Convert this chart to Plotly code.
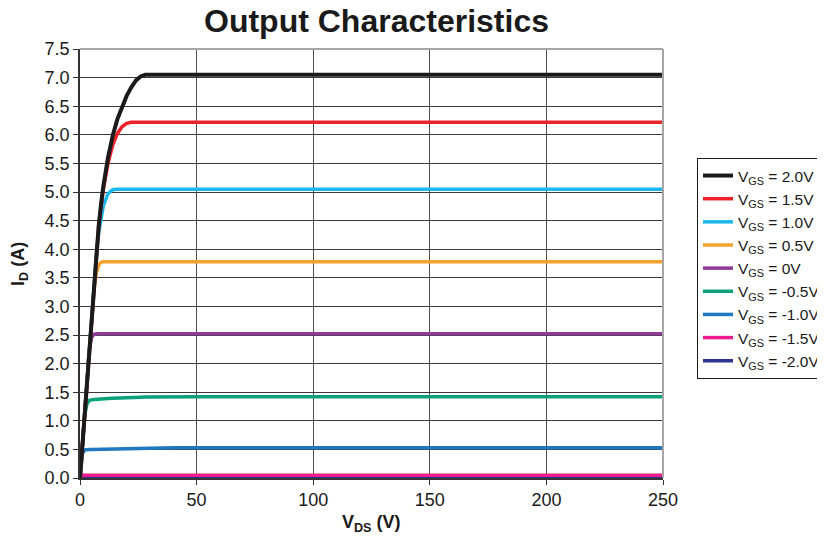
import plotly.graph_objects as go

VDS = [0, 1, 2, 3, 4, 5, 6, 7, 8, 9, 10, 12, 14, 16, 18, 20, 22, 24, 26, 28, 30, 40, 50, 100, 150, 200, 250]

ID_P2_0 = [0, 0.57, 1.14, 1.71, 2.28, 2.85, 3.42, 3.95, 4.40, 4.78, 5.10, 5.60, 5.98, 6.27, 6.50, 6.68, 6.83, 6.95, 7.02, 7.05, 7.05, 7.05, 7.05, 7.05, 7.05, 7.05, 7.05]
ID_P1_5 = [0, 0.57, 1.14, 1.71, 2.28, 2.85, 3.42, 3.95, 4.38, 4.74, 5.04, 5.50, 5.82, 6.02, 6.14, 6.20, 6.22, 6.22, 6.22, 6.22, 6.22, 6.22, 6.22, 6.22, 6.22, 6.22, 6.22]
ID_P1_0 = [0, 0.57, 1.14, 1.71, 2.28, 2.85, 3.42, 3.90, 4.28, 4.56, 4.76, 4.97, 5.04, 5.05, 5.05, 5.05, 5.05, 5.05, 5.05, 5.05, 5.05, 5.05, 5.05, 5.05, 5.05, 5.05, 5.05]
ID_P0_5 = [0, 0.57, 1.14, 1.71, 2.28, 2.85, 3.30, 3.58, 3.72, 3.77, 3.78, 3.78, 3.78, 3.78, 3.78, 3.78, 3.78, 3.78, 3.78, 3.78, 3.78, 3.78, 3.78, 3.78, 3.78, 3.78, 3.78]
ID_0_0 = [0, 0.57, 1.14, 1.71, 2.25, 2.46, 2.51, 2.52, 2.52, 2.52, 2.52, 2.52, 2.52, 2.52, 2.52, 2.52, 2.52, 2.52, 2.52, 2.52, 2.52, 2.52, 2.52, 2.52, 2.52, 2.52, 2.52]
ID_N0_5 = [0, 0.57, 1.10, 1.30, 1.355, 1.37, 1.375, 1.378, 1.38, 1.383, 1.385, 1.39, 1.395, 1.40, 1.403, 1.406, 1.409, 1.411, 1.413, 1.415, 1.416, 1.42, 1.422, 1.422, 1.422, 1.422, 1.422]
ID_N1_0 = [0, 0.42, 0.49, 0.50, 0.50, 0.50, 0.501, 0.502, 0.503, 0.504, 0.505, 0.507, 0.509, 0.511, 0.513, 0.515, 0.517, 0.519, 0.521, 0.523, 0.524, 0.528, 0.53, 0.53, 0.53, 0.53, 0.53]
ID_N1_5 = [0, 0.05, 0.05, 0.05, 0.05, 0.05, 0.05, 0.05, 0.05, 0.05, 0.05, 0.05, 0.05, 0.05, 0.05, 0.05, 0.05, 0.05, 0.05, 0.05, 0.05, 0.05, 0.05, 0.05, 0.05, 0.05, 0.05]
ID_N2_0 = [0] * len(VDS)

SERIES_NAMES = ["V<sub>GS</sub> = -2.0V", "V<sub>GS</sub> = -1.5V", "V<sub>GS</sub> = -1.0V",
                "V<sub>GS</sub> = -0.5V", "V<sub>GS</sub> = 0V", "V<sub>GS</sub> = 0.5V",
                "V<sub>GS</sub> = 1.0V", "V<sub>GS</sub> = 1.5V", "V<sub>GS</sub> = 2.0V"]
SERIES_VALUES = [ID_N2_0, ID_N1_5, ID_N1_0, ID_N0_5, ID_0_0, ID_P0_5, ID_P1_0, ID_P1_5, ID_P2_0]
COLORS = ["#2e3192", "#ec1c8c", "#1f78c1", "#0aa07a", "#8e3a96", "#f2a22e", "#1ab8ec", "#ec2228", "#1a1a1a"]
WIDTHS = [3.5, 3.5, 3.5, 3.5, 3.5, 3.5, 3.5, 3.5, 4]

TITLE = "Output Characteristics"
X_TITLE = "V<sub>DS</sub> (V)"
Y_TITLE = "I<sub>D</sub> (A)"

FONT = "Liberation Sans, Arial, sans-serif"

fig = go.Figure()
for name, vals, col, w in zip(SERIES_NAMES, SERIES_VALUES, COLORS, WIDTHS):
    fig.add_trace(go.Scatter(x=VDS, y=vals, mode="lines", name=name,
                             line=dict(color=col, width=w), cliponaxis=False))

# the page body has an 8px margin, so the figure is 8px smaller and offset
fig.update_layout(
    width=817, height=531,
    margin=dict(l=72, r=162, t=41, b=61, autoexpand=False),
    paper_bgcolor="white", plot_bgcolor="white",
    font=dict(family=FONT, size=18, color="#1a1a1a"),
    title=dict(text="<b>" + TITLE + "</b>", x=0.5086, xref="paper", xanchor="center",
               y=0.975, yref="container", yanchor="middle", font=dict(size=32, color="#1a1a1a")),
    legend=dict(x=1.0583, y=0.746, xanchor="left", yanchor="top",
                bordercolor="#1a1a1a", borderwidth=1, bgcolor="white",
                traceorder="reversed", font=dict(size=15.5)),
    showlegend=True,
)
fig.update_xaxes(range=[0, 250], dtick=50, tick0=0, showgrid=True, gridcolor="#4d4d4d", gridwidth=1,
                 zeroline=False, showline=True, linecolor="#333333", linewidth=1.5,
                 ticks="outside", ticklen=5, tickcolor="#333333", automargin=False)
fig.update_yaxes(range=[0, 7.5], dtick=0.5, tick0=0, tickformat=".1f", showgrid=True,
                 gridcolor="#3a3a3a", gridwidth=1,
                 zeroline=False, showline=True, linecolor="#333333", linewidth=1.5,
                 ticks="outside", ticklen=5, tickcolor="#333333", automargin=False)
fig.add_annotation(text="<b>" + X_TITLE + "</b>", xref="paper", yref="paper", x=0.5, y=-0.105,
                   xanchor="center", yanchor="middle", showarrow=False, font=dict(size=18))
fig.add_annotation(text="<b>" + Y_TITLE + "</b>", xref="paper", yref="paper", x=-0.1029, y=0.499,
                   xanchor="center", yanchor="middle", showarrow=False, textangle=-90,
                   font=dict(size=18))
# gray top/right frame
fig.add_shape(type="line", xref="paper", yref="paper", x0=0, x1=1, y0=1, y1=1,
              line=dict(color="#a6a6a6", width=2))
fig.add_shape(type="line", xref="paper", yref="paper", x0=1, x1=1, y0=0, y1=1,
              line=dict(color="#a6a6a6", width=2))

fig.write_html("out.html")
